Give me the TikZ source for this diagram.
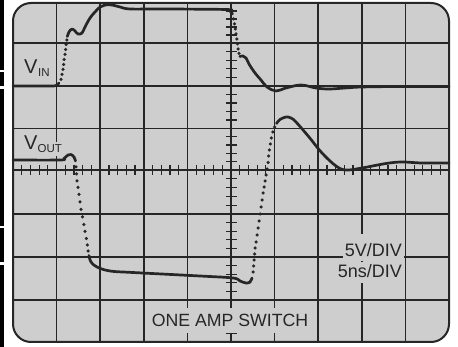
\documentclass[tikz,border=0pt]{standalone}
\usepackage{fontspec}
\setmainfont{Liberation Sans}
\definecolor{screen}{RGB}{206,206,206}
\definecolor{ink}{RGB}{38,38,38}
\begin{document}
\begin{tikzpicture}[x=1pt,y=-1pt,
  gridline/.style={ink,line width=1.6pt},
  tickline/.style={ink,line width=1.2pt},
  trace/.style={ink,line width=2.7pt,line cap=round,line join=round},
  lbl/.style={text=ink,inner sep=0pt},
  boxlbl/.style={text=ink,fill=screen,inner xsep=2pt,inner ysep=2pt}]
\useasboundingbox (0,0) rectangle (458,347);
% left black strip
\fill[black] (0,0) rectangle (4,70);
\fill[black] (0,72) rectangle (4,86);
\fill[black] (0,89) rectangle (4,226);
\fill[black] (0,228) rectangle (4,262);
\fill[black] (0,265) rectangle (4,347);
% screen
\fill[screen,rounded corners=18pt] (13,3) rectangle (449,342);
% grid
\foreach \k in {1,...,9} \draw[gridline] ({13+43.6*\k},3) -- ({13+43.6*\k},342);
\foreach \y in {43,86,128.5,170,214,257,300} \draw[gridline] (13,\y) -- (449,\y);
% ticks on horizontal centre axis
\foreach \k in {0,...,9} \foreach \j in {1,...,4}
  \draw[tickline] ({13+43.6*\k+8.72*\j},165) -- ++(0,10);
% ticks on vertical centre axis
\foreach \a/\b in {3/43,43/86,86/128.5,128.5/170,170/214,214/257,257/300,300/342}
  \foreach \j in {1,...,4}
    \draw[tickline] (225.5,{\a+(\b-\a)*\j/5}) -- ++(11,0);
% border
\draw[ink,line width=2pt,rounded corners=18pt] (13,3) rectangle (449,342);
% labels
\node[lbl,anchor=base west,font=\fontsize{20}{20}\selectfont] (vin) at (24,73.5) {V};
\node[lbl,anchor=base west,font=\fontsize{11.5}{12}\selectfont] (vinsub) at (38,76.5) {IN};
\node[lbl,anchor=base west,font=\fontsize{20}{20}\selectfont] (vout) at (24,150) {V};
\node[boxlbl,inner xsep=0pt,anchor=base west,font=\fontsize{11.5}{12}\selectfont,text height=8.5pt,text depth=1pt] (voutsub) at (37.5,153) {OUT};
\node[boxlbl,anchor=base east,font=\fontsize{18}{18}\selectfont,text height=21pt,text depth=2pt] (volt) at (404,257) {5V/DIV};
\node[boxlbl,anchor=base east,font=\fontsize{18}{18}\selectfont,text height=14pt,text depth=3pt] (time) at (404,278) {5ns/DIV};
\node[boxlbl,inner xsep=3pt,inner ysep=6pt,anchor=base,font=\fontsize{17.7}{18}\selectfont,text height=12.7pt,text depth=0pt] (title) at (230,327) {ONE AMP SWITCH};
% V_IN trace
\draw[trace] plot[smooth] coordinates {(13,86) (50,86) (56,85.5) (59,83)};
\foreach \p in {(61,79.5),(62,74.5),(63,69.5),(63.6,64.5),(64.2,59.5),(65,54.5),(65.6,49.5),(66.2,44.5),(66.8,40)}
  \fill[ink] \p circle[radius=1.75pt];
\draw[trace] plot[smooth,tension=0.6] coordinates {(67.3,36.5) (69,32) (72,29) (75,31) (78,34) (82,33) (85,27) (90,18) (95,12) (100,7) (105,5) (112,5) (120,7) (130,9) (160,9) (226,9.5) (230,11) (232.5,14)};
\foreach \p in {(233.5,19),(234.5,24),(235.3,29),(236,34),(236.8,39),(237.5,44),(238.2,49),(239,53.5)}
  \fill[ink] \p circle[radius=1.75pt];
\draw[trace] plot[smooth,tension=0.6] coordinates {(239.8,56.5) (243,56) (246,58) (249,64) (255,73) (261,80) (267,87) (276,91) (286,88) (301,85) (316,88) (329,89) (345,88) (362,87) (400,86.5) (449,86.5)};
% V_OUT trace
\draw[trace] plot[smooth,tension=0.6] coordinates {(13,160) (60,160) (64,158.5) (68,155) (71,154.5) (74,157) (75.5,161)};
\foreach \p in {(76,167),(76.5,174),(77,181),(78,187.5),(79,194.5),(80,202),(81,209.5),(82.5,217),(83.8,224.5),(85,231.5),(86.3,238.5),(87.3,245),(88.2,251)}
  \fill[ink] \p circle[radius=1.75pt];
\draw[trace] plot[smooth,tension=0.6] coordinates {(89,255.5) (91,262) (97,267) (110,271) (133,272.5) (200,276) (233,278) (240,281) (246,283) (250,282) (252,278)};
\foreach \p in {(253,272),(253.5,266),(254,260),(254.5,254),(255,248),(256,242),(257,235),(258,228),(259,221),(260,214),(261,207),(262,200),(263,193),(264,187),(265,181),(266,175),(267,169),(268,162.5),(268.7,156),(269.4,150),(270.3,144),(271.3,138),(272.8,132),(274.5,127)}
  \fill[ink] \p circle[radius=1.75pt];
\draw[trace] plot[smooth,tension=0.6] coordinates {(276.5,123.5) (280,119.5) (286,117) (291,118) (296,122) (309,137) (322,153) (336,166) (346,170) (362,168) (386,163.5) (402,162) (422,163) (449,163)};
\end{tikzpicture}
\end{document}
